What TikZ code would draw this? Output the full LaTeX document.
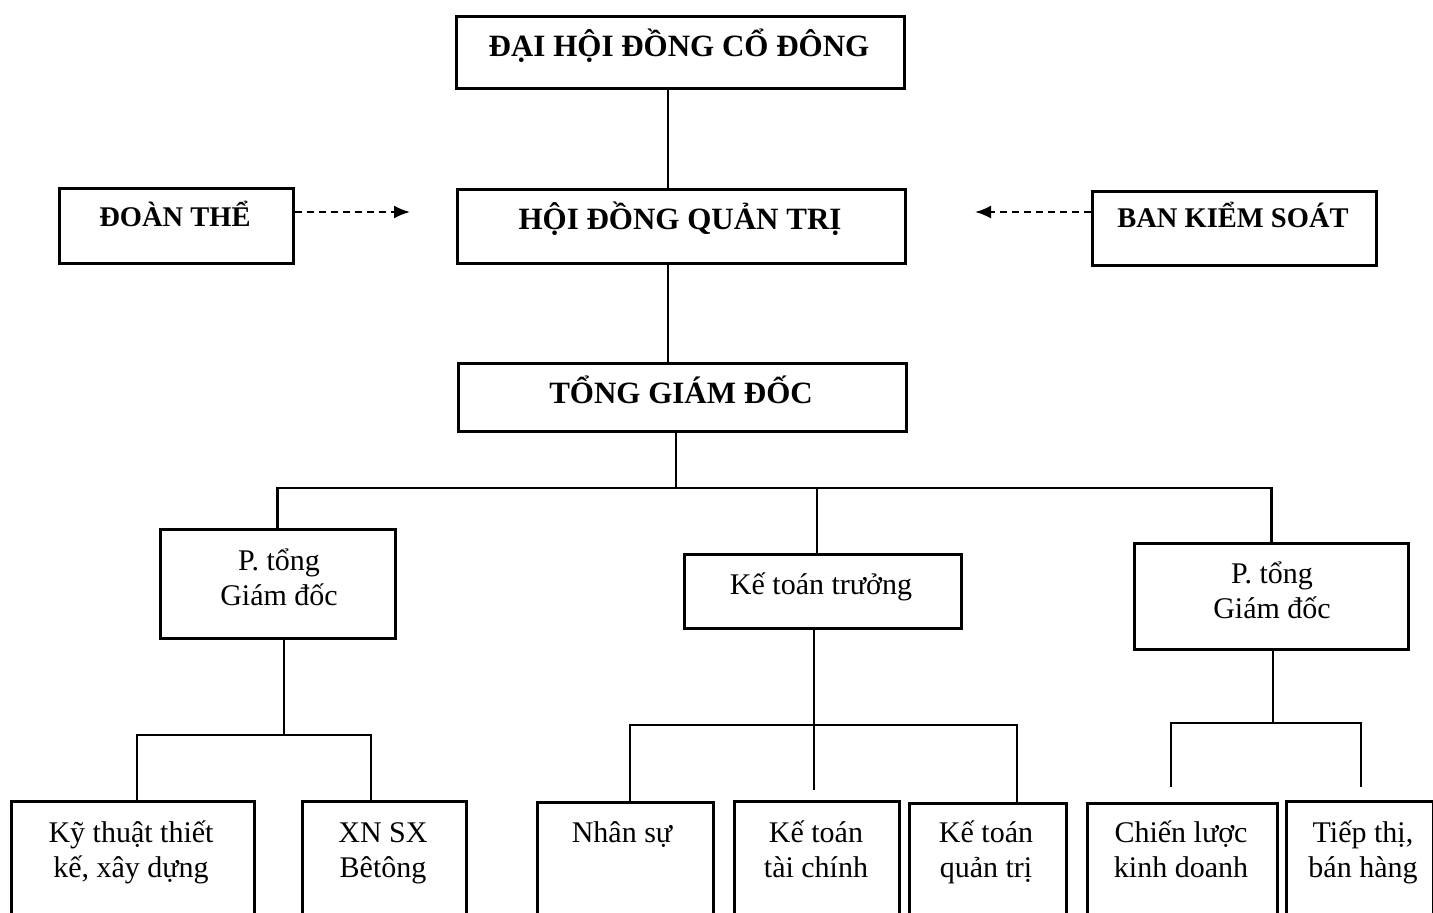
\documentclass[tikz,border=0pt]{standalone}
\usepackage{fontspec}
\setmainfont{Liberation Serif}
\usetikzlibrary{arrows.meta}
\begin{document}
\begin{tikzpicture}[x=1pt,y=-1pt,
  box/.style={draw, line width=2.7pt, inner sep=0pt, anchor=north west},
  conn/.style={line width=2.8pt},
  dasharrow/.style={line width=2.2pt, dash pattern=on 7pt off 5pt, -{Latex[length=16pt,width=13pt]}},
  capsA/.style={anchor=base, inner sep=0pt, font=\fontsize{31}{36}\selectfont\bfseries},
  capsB/.style={anchor=base, inner sep=0pt, font=\fontsize{28.5}{32}\selectfont\bfseries},
  lbl/.style={anchor=base, inner sep=0pt, align=center, font=\fontsize{30}{35}\selectfont}]
\useasboundingbox (0,0) rectangle (1433,913);
\clip (0,0) rectangle (1433,913);
% boxes
\node[box, minimum width=448pt, minimum height=72pt] (dh) at (455,15) {};
\node[box, minimum width=448pt, minimum height=74pt] (hdqt) at (456,188) {};
\node[box, minimum width=234pt, minimum height=75pt] (doan) at (58,187) {};
\node[box, minimum width=284pt, minimum height=74pt] (bks) at (1091,190) {};
\node[box, minimum width=448pt, minimum height=68pt] (tgd) at (457,362) {};
\node[box, minimum width=235pt, minimum height=109pt] (ptl) at (159,528) {};
\node[box, minimum width=277pt, minimum height=74pt] (kt) at (683,553) {};
\node[box, minimum width=274pt, minimum height=106pt] (ptr) at (1133,542) {};
\node[box, minimum width=243pt, minimum height=150pt] (kythuat) at (10,800) {};
\node[box, minimum width=164pt, minimum height=150pt] (xnsx) at (301,800) {};
\node[box, minimum width=176pt, minimum height=150pt] (nhansu) at (536,801) {};
\node[box, minimum width=165pt, minimum height=150pt] (kttc) at (733,800) {};
\node[box, minimum width=157pt, minimum height=150pt] (ktqt) at (908,802) {};
\node[box, minimum width=190pt, minimum height=150pt] (cl) at (1086,802) {};
\node[box, minimum width=147pt, minimum height=150pt] (tt) at (1285,800) {};
% texts
\node[capsA] (tdh) at (679,56) {ĐẠI HỘI ĐỒNG CỔ ĐÔNG};
\node[capsA] (thdqt) at (680,229) {HỘI ĐỒNG QUẢN TRỊ};
\node[capsB] (tdoan) at (175,226) {ĐOÀN THỂ};
\node[capsB] (tbks) at (1233,227) {BAN KIỂM SOÁT};
\node[capsA] (ttgd) at (681,403) {TỔNG GIÁM ĐỐC};
\node[lbl] (tptl) at (279,605) {P. tổng\\Giám đốc};
\node[lbl] (tkt) at (821,594) {Kế toán trưởng};
\node[lbl] (tptr) at (1272,618) {P. tổng\\Giám đốc};
\node[lbl] (tky) at (131,877) {Kỹ thuật thiết\\kế, xây dựng};
\node[lbl] (txn) at (383,877) {XN SX\\Bêtông};
\node[lbl] (tns) at (622,842) {Nhân sự};
\node[lbl] (tkttc) at (816,877) {Kế toán\\tài chính};
\node[lbl] (tktqt) at (986,877) {Kế toán\\quản trị};
\node[lbl] (tcl) at (1181,877) {Chiến lược\\kinh doanh};
\node[lbl] (ttt) at (1363,877) {Tiếp thị,\\bán hàng};
% coordinates for connector routing
\coordinate (c1) at (668,0);
\coordinate (bar1) at (676,488);
\coordinate (dkt) at (817,488);
\coordinate (b2) at (284,735);
\coordinate (d21) at (137,735);
\coordinate (d22) at (371,735);
\coordinate (b3) at (814,725);
\coordinate (d32) at (814,790);
\coordinate (d31) at (630,725);
\coordinate (d33) at (1017,725);
\coordinate (b4) at (1273,723);
\coordinate (d41) at (1171,787);
\coordinate (d42) at (1361,787);
\coordinate (a1) at (410,212);
\coordinate (a2) at (975,212);
% connectors
\draw[conn] (dh.south -| c1) -- (hdqt.north -| c1);
\draw[conn] (hdqt.south -| c1) -- (tgd.north -| c1);
\draw[conn] (tgd.south -| bar1) -- (bar1);
\draw[conn] (ptl.north) |- (bar1) -| (ptr.north);
\draw[conn] (dkt) -- (kt.north -| dkt);
\draw[conn] (ptl.south -| b2) -- (b2);
\draw[conn] (kythuat.north -| d21) |- (b2) -| (xnsx.north -| d22);
\draw[conn] (kt.south -| b3) -- (d32);
\draw[conn] (nhansu.north -| d31) |- (b3) -| (ktqt.north -| d33);
\draw[conn] (ptr.south -| b4) -- (b4);
\draw[conn] (d41) |- (b4) -| (d42);
\draw[dasharrow] (doan.east |- a1) -- (a1);
\draw[dasharrow] (bks.west |- a2) -- (a2);
\end{tikzpicture}
\end{document}
